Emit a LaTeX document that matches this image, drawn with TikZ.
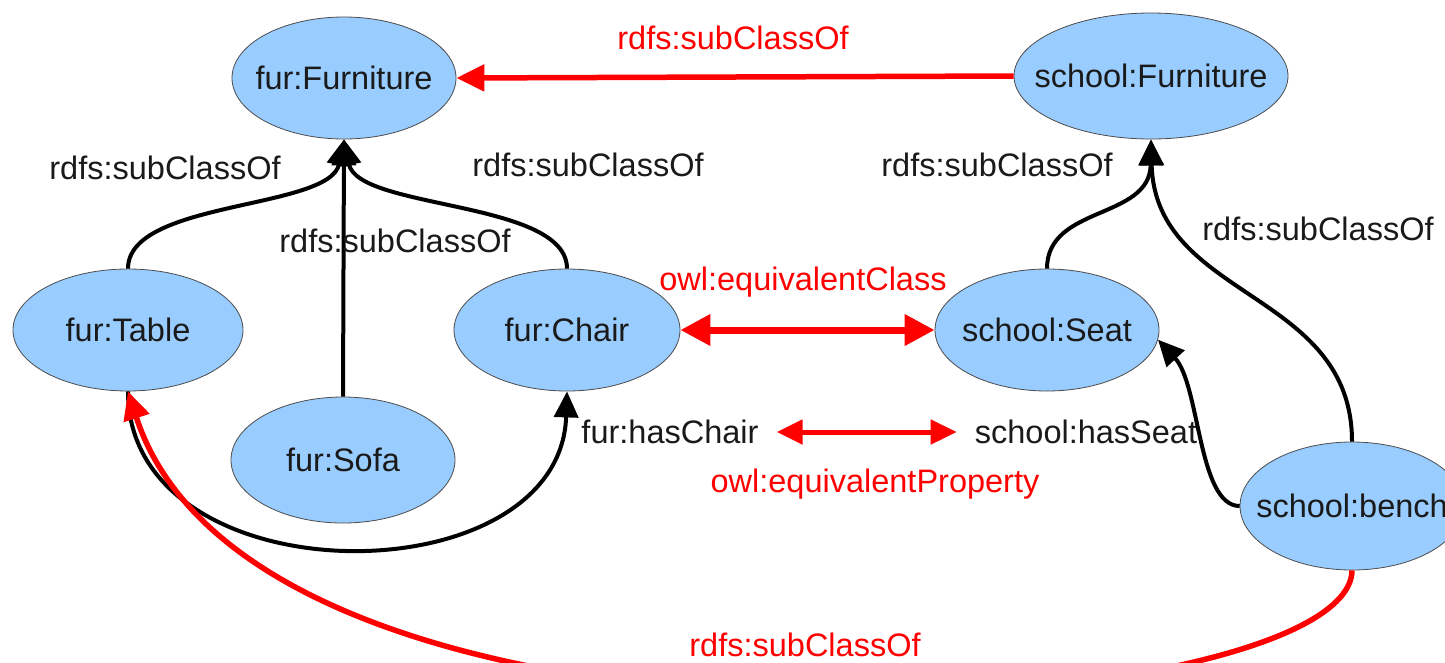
\documentclass[tikz,border=0pt]{standalone}
\usepackage{fontspec}
\setmainfont{Liberation Sans}
\usetikzlibrary{arrows.meta,shapes.geometric}
\definecolor{nodefill}{HTML}{99CCFF}
\definecolor{txt}{HTML}{1A1A1A}
\newcommand\ctext[1]{\makebox[0pt]{#1}}
\begin{document}
\begin{tikzpicture}[x=1pt,y=-1pt,
 cls/.style={ellipse, draw=black!70, line width=0.8pt, fill=nodefill, minimum width=224pt, minimum height=122pt, inner sep=0pt, font=\fontsize{32.5}{38}\selectfont, text=txt},
 lbl/.style={font=\fontsize{32.5}{38}\selectfont, text=txt, inner sep=0pt},
 rlbl/.style={lbl, text=red},
 sub/.style={draw=black, line width=4pt, -{Triangle[length=26pt,width=24pt]}},
 rsub/.style={draw=red, line width=5.5pt, -{Triangle[length=28pt,width=26pt]}},
 req/.style={draw=red, line width=7pt, {Triangle[length=30pt,width=30pt]}-{Triangle[length=30pt,width=30pt]}},
 reqs/.style={draw=red, line width=5pt, {Triangle[length=26pt,width=24pt]}-{Triangle[length=26pt,width=24pt]}}
]
\useasboundingbox (0,0) rectangle (1445,662);
\clip (0,0) rectangle (1445,662);
\fill[white] (0,0) rectangle (1445,662);

\node[cls] (fF) at (344,78) {\ctext{fur:Furniture}};
\node[cls, minimum width=274pt, minimum height=126pt] (sF) at (1151,76) {\ctext{school:Furniture}};
\node[cls, minimum width=230pt] (fT) at (128,330) {\ctext{fur:Table}};
\node[cls, minimum width=226pt] (fC) at (567,330) {\ctext{fur:Chair}};
\node[cls, minimum height=126pt] (fS) at (343,460) {\ctext{fur:Sofa}};
\node[cls] (sS) at (1047,330) {\ctext{school:Seat}};
\node[cls, minimum height=128pt] (sB) at (1352,506) {\ctext{school:bench}};

\node[lbl] (hc) at (670,432) {fur:hasChair};
\node[lbl] (hs) at (1086,432) {school:hasSeat};

% edges
\draw[rsub] (sF.west) -- (fF.east);
\node[rlbl] at (733,38) {rdfs:subClassOf};

\draw[sub] (fT.north) .. controls (128,200) and (330,210) .. (fF.south);
\node[lbl] at (165,168) {rdfs:subClassOf};
\draw[sub] (fS.north) -- (fF.south);
\node[lbl] at (395,241) {rdfs:subClassOf};
\draw[sub] (fC.north) .. controls (567,200) and (358,210) .. (fF.south);
\node[lbl] at (588,165) {rdfs:subClassOf};

\draw[sub] (fT.south) .. controls (128,600) and (560,600) .. (fC.south);

\draw[rsub] (sB.south) .. controls (1350,725) and (260,800) .. (fT.south);
\node[rlbl] at (805,645) {rdfs:subClassOf};

\draw[req] (fC.east) -- (sS.west);
\node[rlbl] at (803,282) {owl:equivalentClass};

\draw[reqs, shorten <=18pt, shorten >=18pt] (hc.east) -- (hs.west);
\node[rlbl] at (875,484) {owl:equivalentProperty};

\draw[sub] (sS.north) .. controls (1047,205) and (1150,220) .. (sF.south);
\node[lbl] at (997,165) {rdfs:subClassOf};
\draw[sub] (sB.north) .. controls (1352,290) and (1155,300) .. (sF.south);
\node[lbl] at (1318,229) {rdfs:subClassOf};
\draw[sub] (sB.west) .. controls (1198,506) and (1200,385) .. (sS.-5);
\end{tikzpicture}
\end{document}
